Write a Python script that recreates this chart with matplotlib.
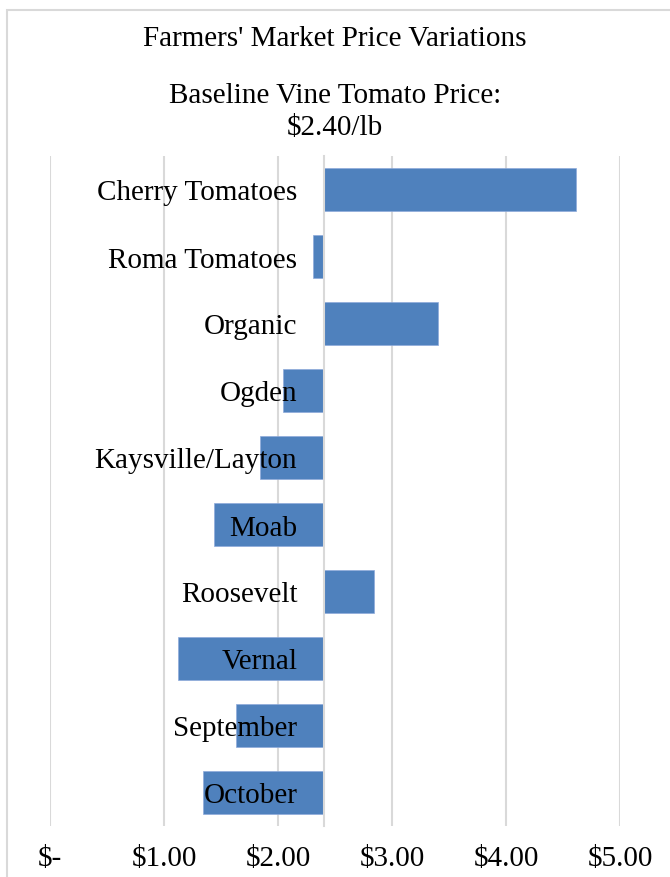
import matplotlib as mpl
mpl.use('Agg')
import matplotlib.pyplot as plt
from matplotlib.patches import Rectangle

plt.rcParams['font.family'] = ['Liberation Serif', 'DejaVu Serif']

# data
baseline = 2.40
categories = ['Cherry Tomatoes', 'Roma Tomatoes', 'Organic', 'Ogden', 'Kaysville/Layton',
              'Moab', 'Roosevelt', 'Vernal', 'September', 'October']
prices = [4.61, 2.31, 3.40, 2.04, 1.84, 1.44, 2.84, 1.12, 1.63, 1.34]
xticks = [0, 1, 2, 3, 4, 5]
xticklabels = ['$-', '$1.00', '$2.00', '$3.00', '$4.00', '$5.00']

fs = 21

fig = plt.figure(figsize=(6.7, 8.78), dpi=100)
# chart area border (runs off the right/bottom edge like the screenshot)
fig.patches.append(Rectangle((7 / 670, -0.05), 1.2, 1 - 11 / 878 + 0.05,
                             transform=fig.transFigure, fill=False,
                             edgecolor='#d9d9d9', linewidth=1.5))

ax = fig.add_axes([50 / 670, 1 - 827 / 878, 570 / 670, 670 / 878])

# spines first - moving the spine resets the ticks
for s in ['top', 'right', 'bottom']:
    ax.spines[s].set_visible(False)
ax.spines['left'].set_position(('data', baseline))
ax.spines['left'].set_color('#d9d9d9')
ax.spines['left'].set_linewidth(1.5)

ypos = range(len(categories))
diffs = [p - baseline for p in prices]
ax.barh(ypos, diffs, left=baseline, height=0.65, color='#4f81bd',
        edgecolor='#8eaadb', linewidth=0.5, zorder=1)

ax.set_xlim(0, 5)
ax.set_ylim(len(categories) - 0.5, -0.5)

ax.set_xticks(xticks)
ax.set_xticklabels(xticklabels, fontsize=fs)
ax.tick_params(axis='x', length=0, pad=14)
ax.grid(axis='x', color='#d9d9d9', linewidth=1.5)
ax.xaxis.set_zorder(0.5)

ax.set_yticks(list(ypos))
ax.set_yticklabels(categories, fontsize=fs)
ax.tick_params(axis='y', length=0, pad=19)
ax.yaxis.set_zorder(3)

fig.text(0.5, 1 - 39 / 878, "Farmers' Market Price Variations", ha='center', va='center',
         fontsize=fs)
fig.text(0.5, 1 - 112 / 878, 'Baseline Vine Tomato Price:\n$2.40/lb', ha='center',
         va='center', fontsize=fs, linespacing=1.3)

plt.savefig('out.png', dpi=100)
